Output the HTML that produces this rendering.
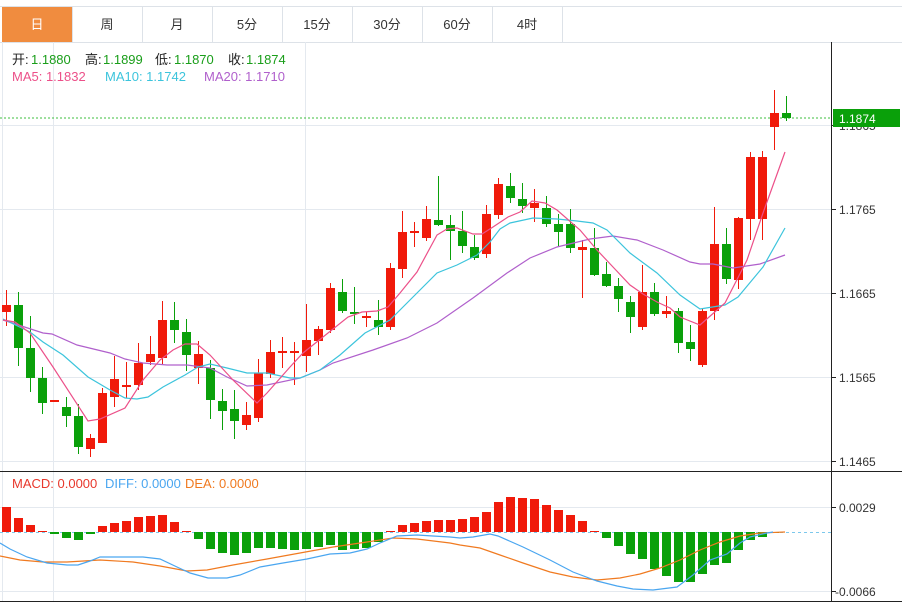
<!DOCTYPE html>
<html><head><meta charset="utf-8"><style>
html,body{margin:0;padding:0;background:#fff;width:902px;height:602px;overflow:hidden}
svg{display:block}
text{font-family:"Liberation Sans","Noto Sans CJK SC",sans-serif}
</style></head><body>
<svg width="902" height="602" viewBox="0 0 902 602" xmlns="http://www.w3.org/2000/svg">
<line x1="0" y1="6.5" x2="902" y2="6.5" stroke="#dde2e8"/>
<line x1="0" y1="42.5" x2="902" y2="42.5" stroke="#dde2e8"/>
<rect x="2" y="7" width="70" height="35" fill="#f08c3f"/>
<g stroke="#dde2e8"><line x1="72.5" y1="6" x2="72.5" y2="42"/><line x1="142.5" y1="6" x2="142.5" y2="42"/><line x1="212.5" y1="6" x2="212.5" y2="42"/><line x1="282.5" y1="6" x2="282.5" y2="42"/><line x1="352.5" y1="6" x2="352.5" y2="42"/><line x1="422.5" y1="6" x2="422.5" y2="42"/><line x1="492.5" y1="6" x2="492.5" y2="42"/><line x1="562.5" y1="6" x2="562.5" y2="42"/></g>
<g font-size="13" text-anchor="middle" fill="#333">
<text x="37" y="29" fill="#fff">日</text><text x="107" y="29">周</text><text x="177" y="29">月</text><text x="247" y="29">5分</text><text x="317" y="29">15分</text><text x="387" y="29">30分</text><text x="457" y="29">60分</text><text x="527" y="29">4时</text>
</g>
<g stroke="#e4e9ef" stroke-width="1">
<line x1="0" y1="125.5" x2="831" y2="125.5"/><line x1="0" y1="209.5" x2="831" y2="209.5"/><line x1="0" y1="293.5" x2="831" y2="293.5"/><line x1="0" y1="377.5" x2="831" y2="377.5"/><line x1="0" y1="461.5" x2="831" y2="461.5"/>
<line x1="0" y1="507.5" x2="831" y2="507.5"/><line x1="0" y1="591.5" x2="831" y2="591.5"/>
<line x1="53.5" y1="42" x2="53.5" y2="601"/><line x1="305.5" y1="42" x2="305.5" y2="601"/>
<line x1="2.5" y1="42" x2="2.5" y2="601"/>
</g>
<rect x="3" y="43" width="302" height="45" fill="#fff"/>
<line x1="53.5" y1="43" x2="53.5" y2="88" stroke="#e4e9ef"/>
<g font-size="13">
<text x="12" y="64" fill="#222">开:</text><text x="31" y="64" fill="#1a9e1a">1.1880</text>
<text x="85" y="64" fill="#222">高:</text><text x="103" y="64" fill="#1a9e1a">1.1899</text>
<text x="155" y="64" fill="#222">低:</text><text x="174" y="64" fill="#1a9e1a">1.1870</text>
<text x="228" y="64" fill="#222">收:</text><text x="246" y="64" fill="#1a9e1a">1.1874</text>
<text x="12" y="81" fill="#ec5089">MA5: 1.1832</text>
<text x="105" y="81" fill="#3cc4dc">MA10: 1.1742</text>
<text x="204" y="81" fill="#b060cc">MA20: 1.1710</text>
</g>
<line x1="0" y1="118" x2="831" y2="118" stroke="#3cbf3c" stroke-dasharray="2,2"/>
<!-- red candles -->
<g fill="#f01a0a" stroke="none">
<rect x="2" y="305" width="9" height="7"/><rect x="50" y="400" width="9" height="2"/><rect x="86" y="438" width="9" height="11"/><rect x="98" y="393" width="9" height="50"/><rect x="110" y="379" width="9" height="18"/><rect x="122" y="385" width="9" height="2"/><rect x="134" y="363" width="9" height="22"/><rect x="146" y="354" width="9" height="8"/><rect x="158" y="320" width="9" height="38"/><rect x="194" y="354" width="9" height="14"/><rect x="242" y="415" width="9" height="10"/><rect x="254" y="373" width="9" height="45"/><rect x="266" y="352" width="9" height="22"/><rect x="278" y="351" width="9" height="2"/><rect x="290" y="351" width="9" height="2"/><rect x="302" y="340" width="9" height="16"/><rect x="314" y="329" width="9" height="12"/><rect x="326" y="288" width="9" height="42"/><rect x="362" y="316" width="9" height="2"/><rect x="386" y="268" width="9" height="59"/><rect x="398" y="232" width="9" height="37"/><rect x="410" y="231" width="9" height="2"/><rect x="422" y="219" width="9" height="19"/><rect x="482" y="214" width="9" height="40"/><rect x="494" y="184" width="9" height="31"/><rect x="530" y="203" width="9" height="5"/><rect x="578" y="247" width="9" height="3"/><rect x="638" y="292" width="9" height="35"/><rect x="662" y="311" width="9" height="3"/><rect x="698" y="311" width="9" height="54"/><rect x="710" y="244" width="9" height="67"/><rect x="734" y="218" width="9" height="62"/><rect x="746" y="157" width="9" height="62"/><rect x="758" y="157" width="9" height="62"/><rect x="770" y="113" width="9" height="14"/>
</g>
<path stroke="#f01a0a" fill="none" d="M6.5 290V326M90.5 434V457M102.5 388V443M114.5 356V407M126.5 362V398M138.5 343V390M150.5 336V365M162.5 301V365M198.5 341V384M246.5 402V430M258.5 359V422M270.5 340V378M282.5 337V368M294.5 342V385M306.5 304V372M318.5 326V355M330.5 283V333M366.5 312V327M390.5 263V330M402.5 211V278M414.5 222V247M426.5 206V241M486.5 205V258M498.5 178V219M534.5 189V222M582.5 240V298M642.5 265V330M666.5 296V318M702.5 308V367M714.5 207V320M738.5 217V289M750.5 152V240M762.5 151V240M774.5 90V150"/>
<!-- green candles -->
<g fill="#0aa00a" stroke="none">
<rect x="14" y="305" width="9" height="43"/><rect x="26" y="348" width="9" height="30"/><rect x="38" y="378" width="9" height="25"/><rect x="62" y="407" width="9" height="9"/><rect x="74" y="416" width="9" height="31"/><rect x="170" y="320" width="9" height="10"/><rect x="182" y="332" width="9" height="23"/><rect x="206" y="368" width="9" height="32"/><rect x="218" y="401" width="9" height="10"/><rect x="230" y="409" width="9" height="12"/><rect x="338" y="292" width="9" height="19"/><rect x="350" y="312" width="9" height="2"/><rect x="374" y="320" width="9" height="7"/><rect x="434" y="220" width="9" height="5"/><rect x="446" y="225" width="9" height="6"/><rect x="458" y="231" width="9" height="15"/><rect x="470" y="247" width="9" height="11"/><rect x="506" y="186" width="9" height="12"/><rect x="518" y="199" width="9" height="7"/><rect x="542" y="208" width="9" height="16"/><rect x="554" y="224" width="9" height="8"/><rect x="566" y="224" width="9" height="24"/><rect x="590" y="248" width="9" height="27"/><rect x="602" y="274" width="9" height="12"/><rect x="614" y="286" width="9" height="13"/><rect x="626" y="302" width="9" height="15"/><rect x="650" y="292" width="9" height="22"/><rect x="674" y="311" width="9" height="32"/><rect x="686" y="342" width="9" height="7"/><rect x="722" y="244" width="9" height="35"/><rect x="782" y="113" width="9" height="5"/>
</g>
<path stroke="#0aa00a" fill="none" d="M18.5 292V366M30.5 316V392M42.5 367V414M66.5 397V427M78.5 404V454M174.5 302V343M186.5 319V371M210.5 360V419M222.5 389V430M234.5 390V439M342.5 279V313M354.5 287V324M378.5 300V335M438.5 176V226M450.5 215V260M462.5 211V253M474.5 235V260M510.5 173V203M522.5 183V213M546.5 196V227M558.5 214V246M570.5 209V253M594.5 228V276M606.5 262V287M618.5 278V312M630.5 296V333M654.5 283V316M678.5 308V353M690.5 325V361M726.5 228V284M786.5 96V121"/>
<polyline fill="none" stroke="#b060cc" stroke-width="1.2" points="3,320 43,333 52,334 77,345 110,353 125,359 143,363 167,365 187,365 210,368 227,377 247,386 267,385 300,378 320,370 333,363 373,350 407,338 437,323 473,298 507,273 530,258 557,247 590,239 613,236 637,240 663,250 690,262 700,264 713,264 733,268 760,264 785,255"/>
<polyline fill="none" stroke="#3cc4dc" stroke-width="1.2" points="3,319 30,332 43,342 63,355 88,377 110,390 125,398 137,399 148,397 163,387 185,375 198,367 210,364 227,368 247,373 267,373 290,378 300,378 320,370 340,355 365,333 390,320 413,297 437,273 457,265 477,255 490,242 500,229 510,223 533,218 557,219 577,221 593,223 607,230 630,253 657,273 680,295 700,309 725,305 738,297 763,267 785,228"/>
<polyline fill="none" stroke="#ec5089" stroke-width="1.2" points="3,320 15,322 30,333 53,367 88,421 100,419 125,408 143,380 160,360 173,350 185,344 197,344 210,355 233,380 257,403 267,393 290,367 303,353 323,337 348,317 362,312 377,311 388,307 400,293 417,272 437,235 447,229 457,228 473,234 482,234 493,227 508,217 520,212 532,201 545,203 557,210 580,230 597,250 613,267 630,285 643,294 657,302 670,308 680,317 700,325 725,303 747,260 763,213 785,152"/>
<line x1="0" y1="471.5" x2="902" y2="471.5" stroke="#222"/>
<line x1="0" y1="601.5" x2="902" y2="601.5" stroke="#222"/>
<line x1="0" y1="532.5" x2="831" y2="532.5" stroke="#7cc8ec" stroke-dasharray="3,3"/>
<g fill="#f01a0a">
<rect x="2" y="507" width="9" height="25"/><rect x="14" y="518" width="9" height="14"/><rect x="26" y="525" width="9" height="7"/><rect x="38" y="531" width="9" height="1"/><rect x="98" y="526" width="9" height="6"/><rect x="110" y="523" width="9" height="9"/><rect x="122" y="521" width="9" height="11"/><rect x="134" y="517" width="9" height="15"/><rect x="146" y="516" width="9" height="16"/><rect x="158" y="515" width="9" height="17"/><rect x="170" y="522" width="9" height="10"/><rect x="182" y="531" width="9" height="1"/><rect x="386" y="531" width="9" height="1"/><rect x="398" y="525" width="9" height="7"/><rect x="410" y="523" width="9" height="9"/><rect x="422" y="521" width="9" height="11"/><rect x="434" y="520" width="9" height="12"/><rect x="446" y="520" width="9" height="12"/><rect x="458" y="519" width="9" height="13"/><rect x="470" y="517" width="9" height="15"/><rect x="482" y="512" width="9" height="20"/><rect x="494" y="502" width="9" height="30"/><rect x="506" y="497" width="9" height="35"/><rect x="518" y="498" width="9" height="34"/><rect x="530" y="499" width="9" height="33"/><rect x="542" y="505" width="9" height="27"/><rect x="554" y="510" width="9" height="22"/><rect x="566" y="515" width="9" height="17"/><rect x="578" y="521" width="9" height="11"/><rect x="590" y="531" width="9" height="1"/>
</g>
<g fill="#0aa00a">
<rect x="50" y="532" width="9" height="2"/><rect x="62" y="532" width="9" height="6"/><rect x="74" y="532" width="9" height="8"/><rect x="86" y="532" width="9" height="2"/><rect x="194" y="532" width="9" height="7"/><rect x="206" y="532" width="9" height="17"/><rect x="218" y="532" width="9" height="21"/><rect x="230" y="532" width="9" height="23"/><rect x="242" y="532" width="9" height="21"/><rect x="254" y="532" width="9" height="16"/><rect x="266" y="532" width="9" height="16"/><rect x="278" y="532" width="9" height="17"/><rect x="290" y="532" width="9" height="18"/><rect x="302" y="532" width="9" height="17"/><rect x="314" y="532" width="9" height="15"/><rect x="326" y="532" width="9" height="13"/><rect x="338" y="532" width="9" height="18"/><rect x="350" y="532" width="9" height="17"/><rect x="362" y="532" width="9" height="16"/><rect x="374" y="532" width="9" height="10"/><rect x="602" y="532" width="9" height="6"/><rect x="614" y="532" width="9" height="14"/><rect x="626" y="532" width="9" height="22"/><rect x="638" y="532" width="9" height="27"/><rect x="650" y="532" width="9" height="37"/><rect x="662" y="532" width="9" height="44"/><rect x="674" y="532" width="9" height="50"/><rect x="686" y="532" width="9" height="50"/><rect x="698" y="532" width="9" height="42"/><rect x="710" y="532" width="9" height="33"/><rect x="722" y="532" width="9" height="31"/><rect x="734" y="532" width="9" height="18"/><rect x="746" y="532" width="9" height="8"/><rect x="758" y="532" width="9" height="5"/><rect x="770" y="532" width="9" height="1"/>
</g>
<polyline fill="none" stroke="#f07a20" stroke-width="1.2" points="0,556 20,560 43,562 67,562 100,560 133,562 160,566 187,571 207,570 233,565 267,559 300,553 333,547 367,542 393,538 417,539 450,543 460,545 480,548 500,555 523,563 550,572 573,577 597,580 620,578 640,574 660,568 680,560 700,550 720,542 740,536 760,533 785,532"/>
<polyline fill="none" stroke="#4aa6f0" stroke-width="1.2" points="0,543 10,549 27,557 47,563 67,565 78,565 90,561 100,557 127,557 143,557 160,559 177,567 190,573 208,578 227,578 240,575 260,567 283,563 307,559 330,554 350,553 367,549 380,543 397,536 417,535 433,536 450,537 460,538 473,537 490,534 498,536 523,547 550,560 573,572 597,581 617,586 633,589 653,590 677,587 693,575 710,560 727,554 740,543 750,537 767,533 773,532"/>
<g font-size="13">
<text x="12" y="488" fill="#e8382c">MACD: 0.0000</text>
<text x="105" y="488" fill="#4aa6f0">DIFF: 0.0000</text>
<text x="185" y="488" fill="#f07a20">DEA: 0.0000</text>
</g>
<line x1="831.5" y1="42" x2="831.5" y2="602" stroke="#222"/>
<g stroke="#222"><line x1="831" y1="209.5" x2="836" y2="209.5"/><line x1="831" y1="293.5" x2="836" y2="293.5"/><line x1="831" y1="377.5" x2="836" y2="377.5"/><line x1="831" y1="461.5" x2="836" y2="461.5"/><line x1="831" y1="125.5" x2="836" y2="125.5"/><line x1="831" y1="507.5" x2="836" y2="507.5"/><line x1="831" y1="591.5" x2="836" y2="591.5"/></g>
<g font-size="12" fill="#333">
<text x="839" y="130">1.1865</text><text x="839" y="214">1.1765</text><text x="839" y="298">1.1665</text><text x="839" y="382">1.1565</text><text x="839" y="466">1.1465</text>
<text x="839" y="512">0.0029</text><text x="835" y="596">-0.0066</text>
</g>
<rect x="833" y="109" width="67" height="18" fill="#0aa00a"/>
<text x="839" y="123" font-size="12" fill="#fff">1.1874</text>
</svg>
</body></html>
